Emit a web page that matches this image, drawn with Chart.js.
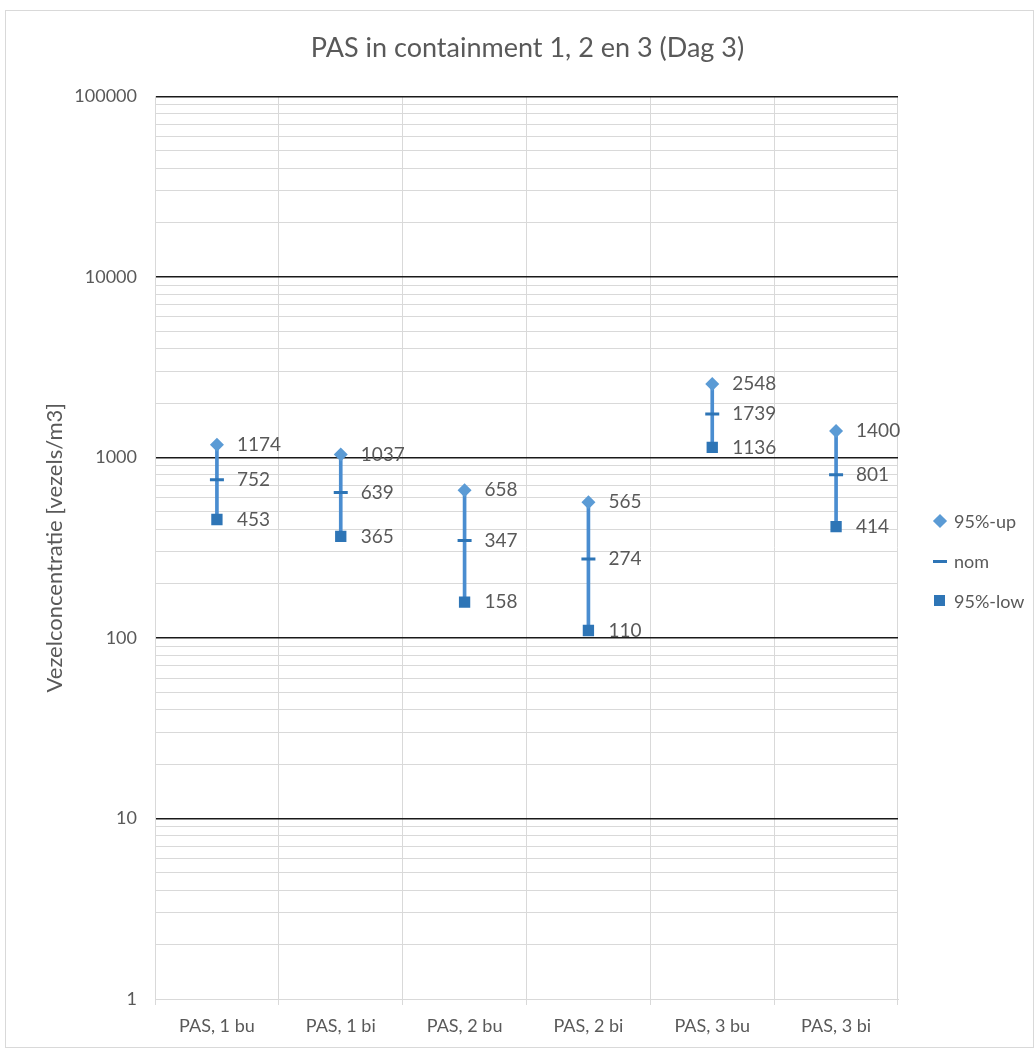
<!DOCTYPE html>
<html>
<head>
<meta charset="utf-8">
<script src="https://cdn.jsdelivr.net/npm/chart.js@4/dist/chart.umd.min.js"></script>
<style>
  body { margin: 0; background: #fff; }
  #frame {
    position: absolute; left: 5px; top: 10px;
    width: 1027px; height: 1036px;
    border: 1px solid #d9d9d9; background: #fff;
  }
  canvas { display: block; }
  #legend {
    position: absolute; left: 926px; top: 490px;
    font-family: Lato, "Open Sans", sans-serif; font-size: 18px; color: #595959;
  }
  .item { height: 40px; display: flex; align-items: center; }
  .mark { width: 16px; height: 16px; margin-right: 6px; position: relative; }
  .mark span { position: absolute; display: block; }
</style>
</head>
<body>
<div id="frame">
  <canvas id="pasChart" width="1027" height="1036"></canvas>
  <div id="legend"></div>
</div>
<script>
// Chart data
const categories = ['PAS, 1 bu', 'PAS, 1 bi', 'PAS, 2 bu', 'PAS, 2 bi', 'PAS, 3 bu', 'PAS, 3 bi'];
const upValues = [1174, 1037, 658, 565, 2548, 1400];
const nomValues = [752, 639, 347, 274, 1739, 801];
const lowValues = [453, 365, 158, 110, 1136, 414];
const majorTicks = [1, 10, 100, 1000, 10000, 100000];

const textColor = '#595959';
const fontFamily = 'Lato, "Open Sans", sans-serif';

// High-low ranges for the vertical connector
const ranges = lowValues.map((low, i) => [low, upValues[i]]);

function isMajor(v) {
    return majorTicks.includes(v);
}

// Data labels next to each marker
const pointLabels = {
    id: 'pointLabels',
    afterDatasetsDraw(chart) {
        const ctx = chart.ctx;
        ctx.save();
        ctx.font = '19px ' + fontFamily;
        ctx.fillStyle = textColor;
        ctx.textAlign = 'left';
        ctx.textBaseline = 'middle';
        chart.data.datasets.forEach((ds, i) => {
            if (ds.type !== 'line') return;
            chart.getDatasetMeta(i).data.forEach((pt, j) => {
                ctx.fillText(String(ds.data[j]), pt.x + 20, pt.y);
            });
        });
        ctx.restore();
    }
};

const ctx = document.getElementById('pasChart').getContext('2d');
const pasChart = new Chart(ctx, {
    type: 'bar',
    data: {
        labels: categories,
        datasets: [
            {
                type: 'line',
                label: '95%-up',
                data: upValues,
                showLine: false,
                pointStyle: 'rectRot',
                pointRadius: 7,
                backgroundColor: '#5b9bd5',
                borderColor: '#5b9bd5',
                borderWidth: 0,
                order: 1
            },
            {
                type: 'line',
                label: 'nom',
                data: nomValues,
                showLine: false,
                pointStyle: 'line',
                pointRadius: 7,
                backgroundColor: '#2e75b6',
                borderColor: '#2e75b6',
                pointBorderWidth: 3,
                order: 2
            },
            {
                type: 'line',
                label: '95%-low',
                data: lowValues,
                showLine: false,
                pointStyle: 'rect',
                pointRadius: 8,
                backgroundColor: '#2e75b6',
                borderColor: '#2e75b6',
                borderWidth: 0,
                order: 3
            },
            {
                type: 'bar',
                label: 'range',
                data: ranges,
                backgroundColor: '#4a8dd0',
                barThickness: 3,
                order: 10
            }
        ]
    },
    options: {
        responsive: false,
        animation: false,
        layout: { padding: { top: 20, right: 0, bottom: 0, left: 16 } },
        plugins: {
            title: {
                display: true,
                text: 'PAS in containment 1, 2 en 3 (Dag 3)',
                color: textColor,
                font: { family: fontFamily, size: 27, weight: 'normal' },
                padding: { top: 1, bottom: 32 }
            },
            legend: { display: false },
            tooltip: { enabled: false }
        },
        scales: {
            x: {
                offset: true,
                grid: { color: '#d9d9d9', offset: true, tickLength: 6 },
                border: { color: '#d9d9d9' },
                ticks: {
                    color: textColor,
                    padding: 10,
                    font: { family: fontFamily, size: 18 }
                },
                afterFit: scale => { scale.height = 48; }
            },
            y: {
                type: 'logarithmic',
                min: 1,
                max: 100000,
                afterBuildTicks: scale => {
                    const ticks = [];
                    majorTicks.forEach(base => {
                        for (let m = 1; m <= 9; m++) {
                            const v = base * m;
                            if (v <= 100000) ticks.push({ value: v });
                        }
                    });
                    scale.ticks = ticks;
                },
                afterFit: scale => { scale.width = 133; },
                title: {
                    display: true,
                    text: 'Vezelconcentratie [vezels/m3]',
                    color: textColor,
                    font: { family: fontFamily, size: 22 },
                    padding: { top: 20, bottom: 0 }
                },
                grid: {
                    drawTicks: false,
                    color: c => (isMajor(c.tick.value) && c.tick.value !== 1) ? '#1a1a1a' : '#d9d9d9',
                    lineWidth: c => (isMajor(c.tick.value) && c.tick.value !== 1) ? 1.6 : 1
                },
                border: { color: '#d9d9d9' },
                ticks: {
                    autoSkip: false,
                    padding: 18,
                    color: textColor,
                    font: { family: fontFamily, size: 18 },
                    callback: v => isMajor(v) ? String(v) : ''
                }
            },
            // empty right-hand box that leaves room for the legend
            legendSpace: {
                type: 'linear',
                position: 'right',
                grid: { display: false },
                border: { display: false },
                ticks: { display: false },
                afterFit: scale => { scale.width = 135; }
            }
        }
    },
    plugins: [pointLabels]
});

// HTML legend built from the point datasets
function markHtml(style, color) {
    if (style === 'rectRot') {
        return `<span style="left:3px;top:3px;width:10px;height:10px;background:${color};transform:rotate(45deg)"></span>`;
    }
    if (style === 'line') {
        return `<span style="left:1px;top:6.5px;width:14px;height:3px;background:${color}"></span>`;
    }
    return `<span style="left:2px;top:2px;width:11px;height:11px;background:${color}"></span>`;
}

const legendEl = document.getElementById('legend');
pasChart.data.datasets
    .filter(ds => ds.type === 'line')
    .forEach(ds => {
        const item = document.createElement('div');
        item.className = 'item';
        item.innerHTML = `<div class="mark">${markHtml(ds.pointStyle, ds.backgroundColor)}</div><span>${ds.label}</span>`;
        legendEl.appendChild(item);
    });
</script>
</body>
</html>
